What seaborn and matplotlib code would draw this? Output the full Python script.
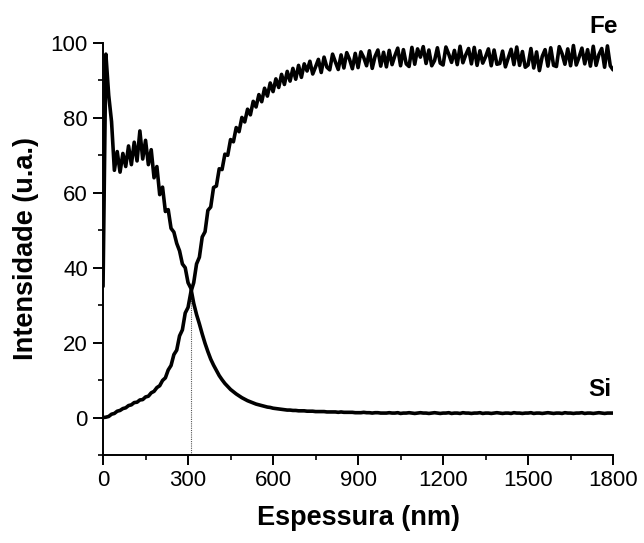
import numpy as np
import pandas as pd
import matplotlib
matplotlib.use("Agg")
import matplotlib.pyplot as plt
import seaborn as sns
from matplotlib.ticker import MultipleLocator

# ---------------- data ----------------
thickness_nm = np.arange(0, 1801, 10)

fe_intensity = [
    0.0, 0.1, 0.3, 0.9, 1.1, 1.7, 1.9, 2.4, 2.6, 3.2,
    3.4, 4.0, 4.1, 4.7, 4.8, 5.5, 5.7, 6.6, 7.0, 8.0,
    8.5, 9.9, 10.6, 12.7, 13.9, 16.8, 18.0, 21.8, 23.4, 27.9,
    29.4, 33.5, 36.0, 41.0, 42.8, 48.2, 49.6, 55.3, 56.2, 61.4,
    61.8, 66.4, 66.2, 70.3, 70.0, 74.2, 73.6, 77.4, 76.3, 80.1,
    78.9, 82.3, 80.8, 84.4, 82.9, 86.2, 84.3, 87.9, 85.8, 89.3,
    87.0, 90.4, 88.1, 91.6, 88.9, 92.4, 89.8, 93.2, 90.3, 94.0,
    90.8, 94.4, 92.5, 95.1, 91.7, 93.6, 95.6, 92.1, 96.2, 93.5,
    92.8, 97.0, 94.9, 92.9, 96.8, 93.3, 97.4, 95.6, 93.1, 97.2,
    93.4, 97.6, 96.1, 93.9, 97.9, 93.2, 96.4, 98.1, 93.8, 97.5,
    93.6, 98.0, 94.2, 96.6, 98.6, 93.9, 98.2, 94.4, 93.7, 98.8,
    94.3, 98.4, 96.2, 99.0, 94.5, 98.1, 93.9, 95.3, 98.7, 94.6,
    94.1, 98.9, 97.0, 94.8, 98.0, 94.2, 99.1, 94.7, 96.8, 98.5,
    94.4, 98.8, 94.0, 97.9, 94.6, 96.3, 98.4, 93.9, 98.1, 94.3,
    94.5, 97.8, 93.6, 96.0, 98.3, 94.2, 98.9, 94.0, 97.7, 93.5,
    94.1, 98.5, 93.3, 97.6, 92.6, 96.4, 98.2, 93.8, 98.7, 94.0,
    93.7, 99.0, 97.1, 94.3, 98.4, 93.9, 99.3, 94.1, 96.2, 98.6,
    94.4, 98.2, 93.8, 99.1, 94.0, 96.9, 98.5, 93.5, 99.2, 93.9,
    92.8,
]

si_intensity = [
    35.0, 97.0, 86.0, 79.0, 66.0, 71.0, 65.5, 70.5, 67.0, 72.5,
    67.5, 73.5, 68.5, 76.5, 69.0, 74.0, 67.5, 71.5, 64.0, 67.0,
    59.5, 61.5, 55.0, 55.5, 50.5, 49.5, 46.5, 44.5, 41.0, 40.0,
    36.0, 34.5, 30.5, 27.5, 25.0, 22.3, 19.8, 17.6, 15.6, 14.0,
    12.6, 11.2, 10.1, 9.1, 8.3, 7.5, 6.9, 6.3, 5.8, 5.3,
    4.9, 4.5, 4.2, 3.9, 3.6, 3.4, 3.2, 3.0, 2.8, 2.7,
    2.5, 2.4, 2.3, 2.2, 2.1, 2.0, 2.0, 1.9, 1.9, 1.8,
    1.8, 1.8, 1.7, 1.7, 1.7, 1.6, 1.6, 1.6, 1.6, 1.5,
    1.5, 1.5, 1.5, 1.4, 1.5, 1.4, 1.4, 1.4, 1.4, 1.3,
    1.3, 1.3, 1.4, 1.3, 1.3, 1.2, 1.3, 1.3, 1.2, 1.2,
    1.2, 1.3, 1.2, 1.2, 1.3, 1.1, 1.2, 1.2, 1.3, 1.2,
    1.1, 1.2, 1.3, 1.2, 1.2, 1.1, 1.2, 1.3, 1.2, 1.1,
    1.2, 1.2, 1.3, 1.1, 1.2, 1.2, 1.1, 1.3, 1.2, 1.2,
    1.1, 1.2, 1.2, 1.3, 1.1, 1.2, 1.2, 1.1, 1.2, 1.3,
    1.2, 1.1, 1.2, 1.2, 1.1, 1.3, 1.2, 1.2, 1.1, 1.2,
    1.2, 1.3, 1.1, 1.2, 1.2, 1.1, 1.2, 1.3, 1.2, 1.1,
    1.2, 1.2, 1.1, 1.3, 1.2, 1.2, 1.1, 1.2, 1.2, 1.3,
    1.1, 1.2, 1.2, 1.1, 1.2, 1.3, 1.2, 1.1, 1.2, 1.2,
    1.2,
]

series_labels = ["Fe", "Si"]
label_positions_nm = [1765, 1755]
label_positions_y = [104.5, 7.5]
crossing_nm = 310
crossing_y = 33
x_ticks = [0, 300, 600, 900, 1200, 1500, 1800]
y_ticks = [0, 20, 40, 60, 80, 100]

# ---------------- plot ----------------
sns.set_theme(style="ticks")
plt.rcParams["font.family"] = ["Liberation Sans", "DejaVu Sans"]
plt.rcParams["text.color"] = "black"
plt.rcParams["axes.labelcolor"] = "black"
plt.rcParams["xtick.color"] = "black"
plt.rcParams["ytick.color"] = "black"

fig = plt.figure(figsize=(6.44, 5.43), dpi=100)
ax = fig.add_axes([0.160, 0.162, 0.792, 0.759])

df = pd.DataFrame({
    "x": np.concatenate([thickness_nm, thickness_nm]),
    "y": np.concatenate([fe_intensity, si_intensity]),
    "el": ["Fe"] * len(thickness_nm) + ["Si"] * len(thickness_nm),
})

for el in series_labels:
    sub = df[df["el"] == el]
    sns.lineplot(data=sub, x="x", y="y", ax=ax, color="black",
                 linewidth=2.6, estimator=None, sort=False, legend=False)

ax.vlines(crossing_nm, -10, crossing_y, colors="#555555",
          linestyles=(0, (1, 1)), linewidth=0.8, zorder=1)

for lab, xp, yp in zip(series_labels, label_positions_nm, label_positions_y):
    ax.text(xp, yp, lab, fontsize=17.5, fontweight="bold",
            ha="center", va="center", clip_on=False, color="black")

ax.set_xlim(0, 1800)
ax.set_ylim(-10, 100)
ax.set_xticks(x_ticks)
ax.set_yticks(y_ticks)
ax.xaxis.set_minor_locator(MultipleLocator(150))
ax.yaxis.set_minor_locator(MultipleLocator(10))

ax.set_xlabel("Espessura (nm)", fontsize=19.5, fontweight="bold", labelpad=10)
ax.set_ylabel("Intensidade (u.a.)", fontsize=19.5, fontweight="bold", labelpad=8)

ax.tick_params(axis="both", which="major", direction="out", length=7,
               width=1.4, labelsize=16, pad=4, colors="black")
ax.tick_params(axis="both", which="minor", direction="out", length=3.5,
               width=1.2, colors="black")

for side in ["top", "right"]:
    ax.spines[side].set_visible(False)
for side in ["left", "bottom"]:
    ax.spines[side].set_linewidth(1.4)
    ax.spines[side].set_color("black")

fig.savefig("out.png", dpi=100, facecolor="white")
